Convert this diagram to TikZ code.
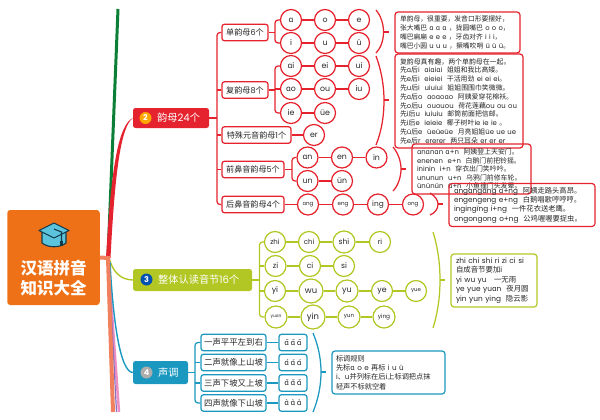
\documentclass[tikz,border=0pt]{standalone}
\usepackage{fontspec}
\setmainfont{Poppins}
\newfontfamily\cjk{Noto Sans CJK SC}
\newfontfamily\dv{DejaVu Sans}
\newXeTeXintercharclass\cjkcl
\count255="4E00 \loop \XeTeXcharclass\count255=\cjkcl \advance\count255 by 1 \ifnum\count255<"A000 \repeat
\count255="3000 \loop \XeTeXcharclass\count255=\cjkcl \advance\count255 by 1 \ifnum\count255<"3040 \repeat
\count255="FF00 \loop \XeTeXcharclass\count255=\cjkcl \advance\count255 by 1 \ifnum\count255<"FFF0 \repeat
\XeTeXcharclass"0251=\cjkcl
\XeTeXinterchartokenstate=1
\XeTeXinterchartoks 0 \cjkcl = {\begingroup\cjk}
\XeTeXinterchartoks 4095 \cjkcl = {\begingroup\cjk}
\XeTeXinterchartoks \cjkcl 0 = {\endgroup}
\XeTeXinterchartoks \cjkcl 4095 = {\endgroup}
\definecolor{cred}{HTML}{E5232E}
\definecolor{clime}{HTML}{B2C724}
\definecolor{cblue}{HTML}{1A98BF}
\definecolor{corange}{HTML}{EE7118}
\definecolor{cgreen}{HTML}{0B7F36}
\definecolor{csalmon}{HTML}{F0805E}
\definecolor{cpink}{HTML}{EE8FC4}
\definecolor{cpurple}{HTML}{8A6FC0}
\definecolor{ink}{HTML}{262626}
\definecolor{capblue}{HTML}{5CC3DD}
\definecolor{capdark}{HTML}{123A4A}
\newcommand\fs[2]{\fontsize{#1}{#2}\selectfont}
\newcommand\tn[1]{{\dv ɑ#1\hspace{1.6pt}ɑ#1\hspace{1.6pt}ɑ#1}}
\tikzset{
  x=1pt,y=-1pt,
  mainbox/.style={rounded corners=2.5pt,inner sep=0,text=white,font=\fs{10.2}{12}},
  numdot/.style={circle,inner sep=0,minimum size=12pt,text=white,font=\bfseries\fs{8}{9}},
  headbox/.style={draw=#1,line width=1.25pt,rounded corners=2.5pt,inner sep=0,minimum height=16.5pt,text=ink,font=\fs{8.1}{9}},
  syl/.style={circle,draw=#1,line width=1.25pt,inner sep=0,minimum size=21pt,text=ink,font=\fs{7.8}{8}},
  notebox/.style={draw=#1,line width=1.2pt,rounded corners=3pt,inner sep=0,text=ink,align=left},
  link/.style={draw=#1,line width=1.25pt},
  spine/.style={draw=#1,line width=1.25pt,rounded corners=3pt},
  brace/.style={draw=#1,line width=1.25pt}
}
\begin{document}
\begin{tikzpicture}
\useasboundingbox (0,0) rectangle (600,420);
% trunk and branches
\coordinate (hub) at (108,258);
\coordinate (pinkend) at (119,412);
\coordinate (purpend) at (116.5,412);
\coordinate (salmend) at (113,412);
\coordinate (greenend) at (118,9);
\draw[cgreen,line width=3pt] (hub) -- (greenend);
\draw[cpink,line width=2.5pt] (110,285) -- (pinkend);
\draw[cpurple,line width=1.2pt] (110,285) -- (purpend);
% root
\node[fill=corange,rounded corners=3pt,minimum width=92.5pt,minimum height=95pt,inner sep=0] (root) at (53.5,257.5) {};
\node[text=white,align=center,font=\bfseries\fs{16.5}{20}] (title) at (53.5,278) {汉语拼音\\知识大全};
% cap icon
\fill[capblue,draw=capdark,line width=1.1pt,line join=round] (42,232) -- (42,243) .. controls (48,248) and (60,248) .. (66,243) -- (66,232) -- cycle;
\fill[capblue,draw=capdark,line width=1.1pt,line join=round] (54,223) -- (69,230.5) -- (54,238) -- (39,230.5) -- cycle;
\draw[capdark,line width=1.1pt] (54,229) -- (61.5,232) -- (61.5,241);
\fill[capdark] (60,241) rectangle (63,246);
% main boxes
\node[mainbox,fill=cred,minimum width=76pt,minimum height=20pt] (mred) at (171,118) {};
\node[mainbox,fill=clime,minimum width=119pt,minimum height=22pt] (mlime) at (192.5,280) {};
\node[mainbox,fill=cblue,minimum width=55pt,minimum height=23pt] (mblue) at (160.5,372.5) {};
\node[mainbox,anchor=west] (tred) at (157,118) {韵母24个};
\node[mainbox,anchor=west] (tlime) at (158,279.5) {整体认读音节16个};
\node[mainbox,anchor=west] (tblue) at (158,372.5) {声调};
\node[numdot,fill=orange!70!yellow] (n2) at (145.5,118) {2};
\node[numdot,fill=blue!55!cyan!70!black] (n3) at (146.5,279.5) {3};
\node[numdot,fill=black!32] (n4) at (146.5,372.5) {4};
% tapered branches
\fill[cred] (106,258) .. controls (111,170) and (118,125) .. (mred.west) .. controls (121,127) and (115,170) .. (110.5,258) -- cycle;
\draw[clime,line width=1.4pt] (109,258) .. controls (113,272) and (120,279.5) .. (mlime.west);
\draw[cblue,line width=1.4pt] (110,262) .. controls (113,320) and (120,372) .. (mblue.west);
\draw[csalmon,line width=4pt] (root.east) -- (hub) -- (salmend);
% red heads
\node[headbox=cred,minimum width=46pt] (h1) at (245,32.5) {单韵母6个};
\node[headbox=cred,minimum width=46pt] (h2) at (245,90) {复韵母8个};
\node[headbox=cred,minimum width=69pt] (h3) at (256.5,135) {特殊元音韵母1个};
\node[headbox=cred,minimum width=62pt] (h4) at (253,169.5) {前鼻音韵母5个};
\node[headbox=cred,minimum width=62pt] (h5) at (253,204.5) {后鼻音韵母4个};
\coordinate (rs) at (217,118);
\draw[link=cred] (mred.east) -- (rs);
\draw[spine=cred] (h1.west) -- (217,32.5) -- (217,204.5) -- (h5.west);
\draw[link=cred] (rs |- h2) -- (h2.west);
\draw[link=cred] (rs |- h3) -- (h3.west);
\draw[link=cred] (rs |- h4) -- (h4.west);
% red syllables
\foreach \n/\x/\y/\t in {a1/291/20/ɑ,a2/325/20/o,a3/359/20/e,b1/291/43/i,b2/325/43/u,b3/359/43/ü,
  c1/291/66/ɑi,c2/325/66/ei,c3/359/66/ui,d1/291/89/ɑo,d2/325/89/ou,d3/359/89/iu,e1/291/113/ie,e2/325/113/üe,
  f1/314/135/er,g1/307.5/157.5/ɑn,g2/342/157.5/en,g3/376.5/157.5/in,i1/307.5/181/un,i2/342/181/ün}
  {\node[syl=cred] (\n) at (\x,\y) {\t};}
\foreach \n/\x/\t in {j1/308/ɑng,j2/343/eng,j4/413/ong}
  {\node[syl=cred,font=\fs{5.6}{6}] (\n) at (\x,204.5) {\t};}
\node[syl=cred,font=\fs{7.4}{8}] (j3) at (378,204.5) {ing};
\foreach \p/\q in {a1/a2,a2/a3,b1/b2,b2/b3,c1/c2,c2/c3,d1/d2,d2/d3,e1/e2,g1/g2,g2/g3,i1/i2,j1/j2,j2/j3,j3/j4,h3/f1,h5/j1}
  {\draw[link=cred] (\p) -- (\q);}
\draw[spine=cred] (a1.west) -- (275,20) -- (275,43) -- (b1.west);
\draw[link=cred] (h1.east) -- (275,32.5);
\draw[spine=cred] (c1.west) -- (275,66) -- (275,113) -- (e1.west);
\draw[link=cred] (h2.east) -- (275,90);
\draw[link=cred] (275,89) -- (d1.west);
\draw[spine=cred] (g1.west) -- (292,157.5) -- (292,181) -- (i1.west);
\draw[link=cred] (h4.east) -- (292,169.5);
% red braces
\draw[brace=cred] (376,10) .. controls (381,16) and (383.5,24) .. (383.5,32) .. controls (383.5,40) and (381,48) .. (376,53);
\draw[brace=cred] (383.5,32) -- (389,32);
\draw[brace=cred] (376,56) .. controls (382,72) and (384,88) .. (384,100) .. controls (384,115) and (382,130) .. (376,145);
\draw[brace=cred] (384,100) -- (389,100);
\draw[brace=cred] (393,147) .. controls (398,153) and (401,161) .. (401,169) .. controls (401,177) and (398,186) .. (393,191);
\draw[brace=cred] (401,169) -- (406,169);
\draw[brace=cred] (430,193) .. controls (435,196) and (438,200) .. (438,204) .. controls (438,209) and (435,213) .. (430,215);
\draw[brace=cred] (438,204) -- (443,204);
% red notes
\node[notebox=cred,minimum width=125pt,minimum height=41pt,text width=115pt,font=\fs{6.8}{8.7},fill=white] (nt1) at (457.5,32.5) {单韵母，很重要，发音口形要摆好，\\张大嘴巴 ɑ ɑ ɑ ，拢圆嘴巴 o o o，\\嘴巴扁扁 e e e ，牙齿对齐 i i i，\\嘴巴小圆 u u u ，撅嘴吹哨 ü ü ü。};
\node[notebox=cred,minimum width=128pt,minimum height=94pt,text width=118pt,font=\fs{6.9}{8.8}] (nt2) at (459,101) {复韵母真有趣，两个单韵母在一起。\\先ɑ后i\ \ ɑiɑiɑi\ \ 姐姐和我比高矮。\\先e后i\ \ eieiei\ \ 干活用劲 ei ei ei。\\先u后i\ \ uiuiui\ \ 姐姐围围巾笑微微。\\先ɑ后o\ \ ɑoɑoɑo\ \ 阿姨爱穿花棉袄。\\先o后u\ \ ououou\ \ 荷花莲藕ou ou ou\\先i后u\ \ iuiuiu\ \ 邮筒前面把信邮。\\先i后e\ \ ieieie\ \ 椰子树叶ie ie ie 。\\先ü后e\ \ üeüeüe\ \ 月亮姐姐üe ue ue\\先e后r\ \ ererer\ \ 两只耳朵 er er er};
\node[notebox=cred,minimum width=119pt,minimum height=50pt,text width=109pt,font=\fs{6.9}{8.6}] (nt3) at (471.5,169) {ɑnɑnɑn ɑ+n\ \ 阿姨登上天安门。\\enenen\ \ e+n\ \ 白鹅门前把铃摇。\\ininin\ \ i+n\ \ 穿衣出门笑吟吟。\\ununun\ \ u+n\ \ 乌鸦门前修车轮。\\ününün\ \ ü+n\ \ 小鱼撞门头发晕。};
\node[notebox=cred,minimum width=146pt,minimum height=43pt,text width=136pt,font=\fs{7.3}{9.3}] (nt4) at (522,205) {ɑngɑngɑng ɑ+ng\ \ 阿姨走路头高昂。\\engengeng e+ng\ \ 白鹅唱歌哼哼哼。\\ingingïng i+ng\ \ 一件花衣送老鹰。\\ongongong o+ng\ \ 公鸡喔喔要捉虫。};
% lime
\foreach \n/\x/\y/\t/\d/\s in {k1/275/242/zhi/21/7,k2/309/242/chi/21/7,k3/344/242/shi/22/7.6,k4/380/242/ri/21/7.2,
  l1/275.5/266/zi/21/7.6,l2/310/266/ci/21/7.6,l3/344/266/si/21/7.6,
  m1/275/291/yi/21/7.8,m2/311/291/wu/24/8.4,m3/347/291/yu/22/8,m4/382/291/ye/21/7.8,m5/416/291/yue/21/5.4,
  o1/276/317/yuɑn/22/4.4,o2/313/317/yin/24/8.4,o3/349/317/yun/22/5.6,o4/384/317/ying/22/5.8}
  {\node[syl=clime,minimum size=\d pt,font=\fs{\s}{8}] (\n) at (\x,\y) {\t};}
\foreach \p/\q in {k1/k2,k2/k3,k3/k4,l1/l2,l2/l3,m1/m2,m2/m3,m3/m4,m4/m5,o1/o2,o2/o3,o3/o4}
  {\draw[link=clime] (\p) -- (\q);}
\draw[spine=clime] (k1.west) -- (259.5,242) -- (259.5,317) -- (o1.west);
\draw[link=clime] (l1.west) -- (259.5,266);
\draw[link=clime] (m1.west) -- (259.5,291);
\draw[link=clime] (mlime.east) -- (259.5,280);
\draw[brace=clime] (433,232) .. controls (438,248) and (440,264) .. (440,280) .. controls (440,296) and (438,312) .. (433,328);
\draw[brace=clime] (440,280) -- (445,280);
\node[notebox=clime,minimum width=86pt,minimum height=53pt,text width=76pt,font=\fs{7.4}{9.5}] (nt5) at (494,280.5) {zhi chi shi ri zi ci si\\自成音节要加i\\yi wu yu\ \ \ 一无雨\\ye yue yuɑn\ \ 夜月圆\\yin yun ying\ \ 隐云影};
% blue
\foreach \n/\y/\t/\mk in {p1/342.5/一声平平左到右/^^^^0304,p2/362.5/二声就像上山坡/^^^^0301,p3/383/三声下坡又上坡/^^^^030c,p4/403/四声就像下山坡/^^^^0300}
  {\node[headbox=cblue,minimum width=65pt,font=\fs{8.4}{9}] (\n) at (233.5,\y) {\t};
   \node[headbox=cblue,minimum width=28pt,font=\fs{7.4}{8}] (q\n) at (293,\y) {\tn{\mk}};
   \draw[link=cblue] (\n) -- (q\n);}
\draw[spine=cblue] (p1.west) -- (195,342.5) -- (195,403) -- (p4.west);
\draw[link=cblue] (mblue.east) -- (195,372.5);
\draw[link=cblue] (p2.west) -- (195,362.5);
\draw[link=cblue] (p3.west) -- (195,383);
\draw[brace=cblue] (313,333) .. controls (318,345) and (321,358) .. (321,372) .. controls (321,386) and (318,400) .. (313,412);
\draw[brace=cblue] (321,372) -- (326,372);
\node[notebox=cblue,minimum width=113pt,minimum height=43pt,text width=105pt,font=\fs{7.2}{9.4}] (nt6) at (388.5,372.5) {标调规则\\先标ɑ o e 再标 i u ü\\i、u并列标在后i上标调把点抹\\轻声不标就空着};
\end{tikzpicture}
\end{document}
